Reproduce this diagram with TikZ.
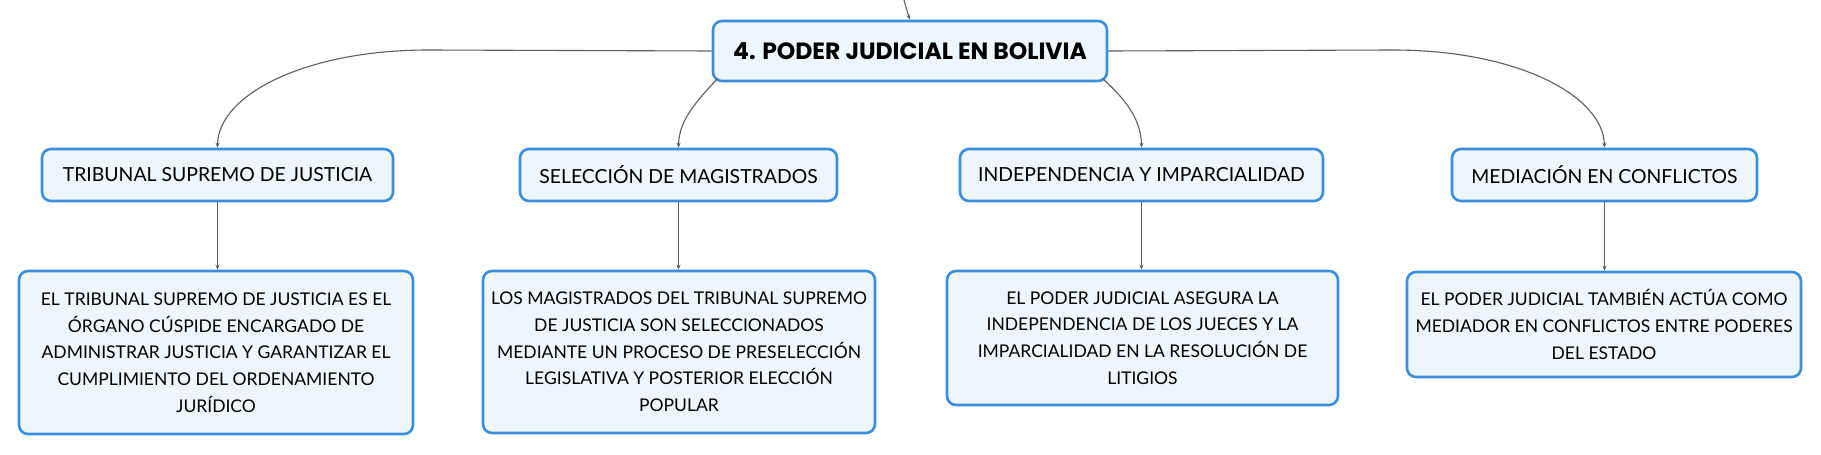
\documentclass[tikz,border=0pt]{standalone}
\usepackage{fontspec}
\setmainfont{Lato}
\newfontfamily\titlefont{Poppins}
\usetikzlibrary{arrows.meta}
\definecolor{boxborder}{HTML}{3A8EDB}
\definecolor{boxfill}{HTML}{EEF6FC}
\definecolor{linkgray}{HTML}{5E5E5E}
\tikzset{
  box/.style={draw=boxborder, line width=2.6pt, fill=boxfill, rounded corners=9pt,
    align=center, inner sep=0pt, text=black},
  rootbox/.style={box, font=\titlefont\bfseries\fontsize{23.5}{28}\selectfont},
  topicbox/.style={box, font=\fontsize{19.4}{24}\selectfont},
  leafbox/.style={box, font=\fontsize{17.5}{26.7}\selectfont},
  link/.style={draw=linkgray, line width=1.1pt, -{Stealth[length=5pt,width=4pt]}},
}
\begin{document}
\begin{tikzpicture}[x=1pt,y=1pt]
\useasboundingbox (0,0) rectangle (1821,-455);
\fill[white] (0,0) rectangle (1821,-455);

\node[rootbox, minimum width=394pt, minimum height=60pt] (root) at (910,-51) {4. PODER JUDICIAL EN BOLIVIA};

\node[topicbox, minimum width=351pt, minimum height=52pt] (t1) at (217.5,-175) {TRIBUNAL SUPREMO DE JUSTICIA};
\node[topicbox, minimum width=317pt, minimum height=52pt] (t2) at (678.5,-175) {SELECCIÓN DE MAGISTRADOS};
\node[topicbox, minimum width=363pt, minimum height=52pt] (t3) at (1141.5,-175) {INDEPENDENCIA Y IMPARCIALIDAD};
\node[topicbox, minimum width=305pt, minimum height=52pt] (t4) at (1604.5,-175) {MEDIACIÓN EN CONFLICTOS};

\node[leafbox, minimum width=394pt, minimum height=163pt] (l1) at (216,-352.5)
  {EL TRIBUNAL SUPREMO DE JUSTICIA ES EL\\ÓRGANO CÚSPIDE ENCARGADO DE\\ADMINISTRAR JUSTICIA Y GARANTIZAR EL\\CUMPLIMIENTO DEL ORDENAMIENTO\\JURÍDICO};
\node[leafbox, minimum width=392pt, minimum height=162pt] (l2) at (679,-352)
  {LOS MAGISTRADOS DEL TRIBUNAL SUPREMO\\DE JUSTICIA SON SELECCIONADOS\\MEDIANTE UN PROCESO DE PRESELECCIÓN\\LEGISLATIVA Y POSTERIOR ELECCIÓN\\POPULAR};
\node[leafbox, minimum width=391pt, minimum height=134pt] (l3) at (1142.5,-338)
  {EL PODER JUDICIAL ASEGURA LA\\INDEPENDENCIA DE LOS JUECES Y LA\\IMPARCIALIDAD EN LA RESOLUCIÓN DE\\LITIGIOS};
\node[leafbox, minimum width=394pt, minimum height=105pt] (l4) at (1604,-324.5)
  {EL PODER JUDICIAL TAMBIÉN ACTÚA COMO\\MEDIADOR EN CONFLICTOS ENTRE PODERES\\DEL ESTADO};

% incoming connector from above
\coordinate (top) at (904,0);
\draw[link] (top) .. controls (906,-8) and (908,-14) .. (root.north);

% root to topics
\coordinate (lstart) at (428,-50);
\coordinate (rstart) at (1393,-50);
\draw[link] (root.west) -- (lstart) .. controls (305,-50) and (218,-95) .. (t1.north);
\draw[link] (root.south west) ++(6,4) .. controls (700,-98) and (679,-118) .. (t2.north);
\draw[link] (root.south east) ++(-6,4) .. controls (1124,-98) and (1141,-118) .. (t3.north);
\draw[link] (root.east) -- (rstart) .. controls (1516,-50) and (1603,-95) .. (t4.north);

% topics to leaves
\draw[link] (t1.south) -- (t1.south |- l1.north);
\draw[link] (t2.south) -- (t2.south |- l2.north);
\draw[link] (t3.south) -- (t3.south |- l3.north);
\draw[link] (t4.south) -- (t4.south |- l4.north);
\end{tikzpicture}
\end{document}
